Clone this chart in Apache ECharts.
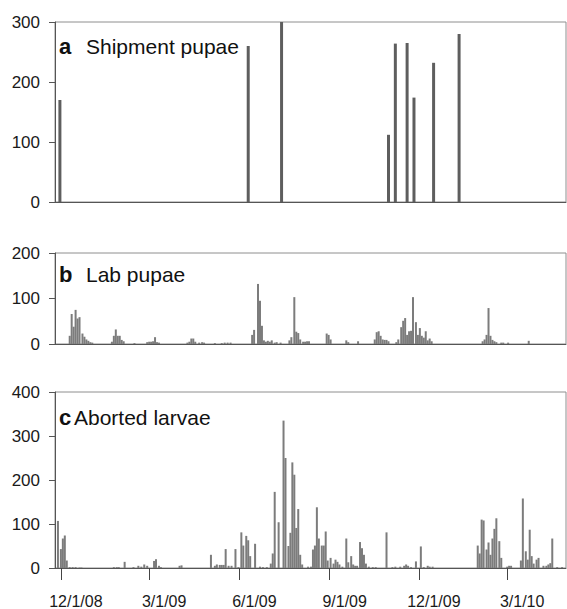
<!DOCTYPE html>
<html>
<head>
<meta charset="utf-8">
<script src="https://cdn.jsdelivr.net/npm/echarts@6/dist/echarts.min.js"></script>
<style>
  html, body { margin: 0; padding: 0; background: #fff; }
  #chart { width: 567px; height: 609px; }
</style>
</head>
<body>
<div id="chart"></div>
<script>
// x positions are days counted from 12/1/08
var tickDays = [0, 90, 182, 274, 365, 455];
var tickLabels = ["12/1/08", "3/1/09", "6/1/09", "9/1/09", "12/1/09", "3/1/10"];

// a - shipment pupae
var shipDays = [-1, 191, 225, 334, 341, 353, 360, 380, 406];
var shipPupae = [170, 260, 300, 112, 264, 265, 174, 232, 280];

// b - lab pupae
var labDays = [
  9, 11, 13, 15, 17, 19, 22, 24, 26, 28, 30, 32,
  52, 54, 56, 58, 60, 62, 64, 75,
  88, 90, 92, 94, 96, 98, 100,
  129, 131, 133, 135, 137, 141, 144, 146,
  157, 164, 167, 170, 173,
  195, 197, 201, 203, 205, 207, 209, 211, 213, 215, 218, 220, 224,
  233, 235, 238, 240, 242, 244, 247, 249, 251, 253,
  271, 273, 275, 291, 293, 303,
  320, 322, 324, 326, 328, 330, 332, 334,
  342, 344, 347, 349, 351, 353, 355, 357, 359, 362, 364, 366, 368, 370, 372, 374, 376, 378,
  430, 432, 434, 436, 438, 440, 442, 444, 449, 451, 456, 477
];
var labPupae = [
  18, 66, 38, 75, 56, 59, 23, 16, 10, 7, 4, 3,
  5, 18, 32, 18, 18, 9, 6, 2,
  4, 5, 5, 6, 15, 4, 3,
  3, 5, 12, 12, 5, 3, 4, 3,
  2, 2, 3, 3, 3,
  20, 31, 132, 95, 40, 8, 5, 7, 5, 8, 3, 4, 3,
  8, 15, 103, 27, 24, 10, 5, 5, 6, 6,
  23, 20, 10, 8, 4, 6,
  10, 26, 28, 18, 10, 9, 9, 6,
  4, 10, 37, 51, 57, 20, 28, 29, 103, 48, 20, 35, 18, 14, 28, 8, 12, 6,
  6, 10, 20, 79, 18, 9, 6, 4, 3, 3, 3, 7
];

// c - aborted larvae
var abortDays = [
  -3, 0, 2, 4, 6, 9, 12, 15, 19, 21,
  54, 57, 59, 65, 74, 79, 82, 85, 88, 95, 97, 100, 102,
  121, 123,
  153, 157, 159, 162, 164, 166, 168, 171, 174, 178, 181,
  184, 186, 189, 191, 193, 198, 203, 206, 210,
  214, 216, 218, 222, 227, 229, 232, 234, 236, 238, 240, 242, 244, 246,
  252, 255, 257, 259, 261, 263, 266, 268, 270, 272, 275, 278, 280, 282, 284, 287,
  291, 293, 296, 298, 300, 302, 305, 307, 309, 311, 314, 318, 321,
  332,
  338, 341, 346, 350, 352, 354, 357,
  362, 367, 370, 374, 376, 379,
  425, 427, 429, 431, 434, 436, 438, 440, 442, 444, 447, 449,
  455, 457, 459,
  469, 471, 474, 476, 478, 480, 482, 485, 487, 492, 495, 497, 499, 501, 506, 511
];
var abortLarvae = [
  107, 43, 67, 74, 17, 2, 2, 2, 1, 1,
  2, 2, 2, 14, 2, 5, 3, 8, 5, 16, 20, 5, 2,
  5, 6,
  30, 5, 8, 7, 7, 7, 43, 5, 5, 43, 2,
  81, 51, 73, 63, 27, 55, 3, 2, 2,
  10, 33, 173, 104, 335, 250, 50, 80, 240, 212, 91, 134, 30, 8,
  3, 3, 42, 51, 138, 67, 51, 51, 83, 17, 23, 10, 19, 14, 8, 3,
  67, 13, 27, 8, 5, 5, 59, 45, 30, 10, 3, 2, 2,
  81,
  2, 3, 3, 5, 8, 5, 2,
  15, 49, 2, 5, 3, 3,
  51, 33, 110, 108, 42, 58, 30, 67, 89, 113, 61, 23,
  3, 5, 5,
  17, 158, 38, 19, 87, 27, 10, 19, 23, 5, 5, 8, 11, 67, 2, 2
];

var yMax = [300, 200, 400];
var panelTop = [22, 253, 392];
var panelHeight = [180, 91, 176];
var panelLetter = ["a", "b", "c"];
var panelName = ["Shipment pupae", "Lab pupae", "Aborted larvae"];

function pairs(xs, ys) {
  var out = [];
  for (var i = 0; i < xs.length; i++) {
    out.push([xs[i], ys[i]]);
  }
  return out;
}

var font = "Arial, 'Liberation Sans', sans-serif";
var myChart = echarts.init(document.getElementById("chart"), null, { renderer: "svg" });

var grids = [], xAxes = [], yAxes = [], titles = [];
for (var i = 0; i < 3; i++) {
  grids.push({
    left: 55,
    top: panelTop[i],
    width: 511,
    height: panelHeight[i],
    show: true,
    borderColor: "#8e8e8e",
    borderWidth: 1
  });
  xAxes.push({
    gridIndex: i,
    type: "value",
    min: -6,
    max: 515,
    axisLine: { show: true, onZero: false, lineStyle: { color: "#555", width: 1 } },
    axisTick: {
      show: i === 2,
      customValues: tickDays,
      length: 12,
      lineStyle: { color: "#444", width: 1 }
    },
    axisLabel: {
      show: i === 2,
      customValues: tickDays,
      formatter: function (v) {
        var k = tickDays.indexOf(v);
        return k >= 0 ? tickLabels[k] : "";
      },
      fontFamily: font,
      fontSize: 16,
      color: "#1a1a1a",
      margin: 25,
      padding: [0, 0, 0, 30]
    },
    splitLine: { show: false }
  });
  yAxes.push({
    gridIndex: i,
    type: "value",
    min: 0,
    max: yMax[i],
    interval: 100,
    axisLine: { show: true, onZero: false, lineStyle: { color: "#555", width: 1 } },
    axisTick: { show: true, length: 6, lineStyle: { color: "#555" } },
    axisLabel: { fontFamily: font, fontSize: 17, color: "#1a1a1a", margin: 15 },
    splitLine: { show: false }
  });
  titles.push({
    left: 59,
    top: [34, 262, 405][i],
    padding: 0,
    text: "{k|" + panelLetter[i] + "}{t|" + panelName[i] + "}",
    textStyle: {
      fontWeight: "normal",
      rich: {
        k: { fontFamily: font, fontWeight: "bold", fontSize: 22, color: "#111", width: i === 2 ? 15 : 27, lineHeight: 24 },
        t: { fontFamily: font, fontWeight: "normal", fontSize: 21, color: "#111", lineHeight: 24 }
      }
    }
  });
}

myChart.setOption({
  animation: false,
  title: titles,
  grid: grids,
  xAxis: xAxes,
  yAxis: yAxes,
  series: [
    {
      type: "bar",
      xAxisIndex: 0,
      yAxisIndex: 0,
      barWidth: 3,
      itemStyle: { color: "#5e5e5e" },
      data: pairs(shipDays, shipPupae)
    },
    {
      type: "bar",
      xAxisIndex: 1,
      yAxisIndex: 1,
      barWidth: 2,
      itemStyle: { color: "#7c7c7c" },
      data: pairs(labDays, labPupae)
    },
    {
      type: "bar",
      xAxisIndex: 2,
      yAxisIndex: 2,
      barWidth: 2,
      itemStyle: { color: "#7c7c7c" },
      data: pairs(abortDays, abortLarvae)
    }
  ]
});
</script>
</body>
</html>
